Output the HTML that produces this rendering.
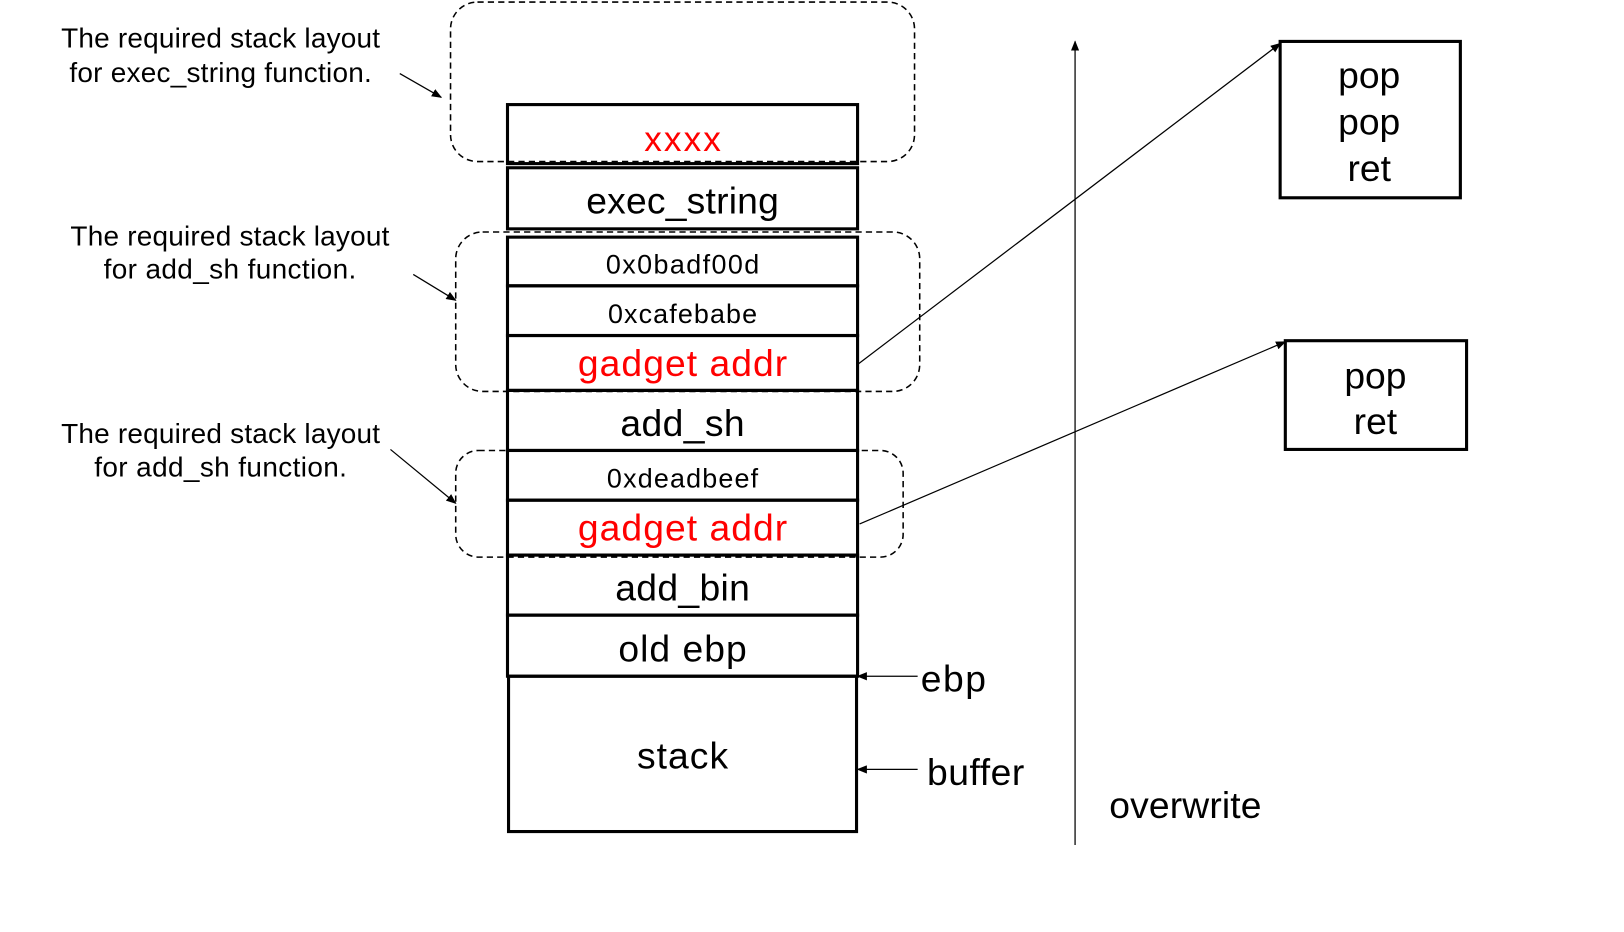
<!DOCTYPE html>
<html><head><meta charset="utf-8"><style>html,body{margin:0;padding:0;background:#fff}svg{display:block}</style></head><body>
<svg width="1624" height="932" viewBox="0 0 1568 900" preserveAspectRatio="none" xmlns="http://www.w3.org/2000/svg" font-family="Liberation Sans, sans-serif">
<defs><marker id="a" markerWidth="10" markerHeight="8" refX="9" refY="4" orient="auto" markerUnits="userSpaceOnUse"><path d="M0,0 L10,4 L0,8 z" fill="#000"/></marker></defs>
<g fill="none" stroke="#000" stroke-width="1.5" stroke-dasharray="6,4">
<rect x="435" y="2" width="448" height="154" rx="26"/>
<rect x="440" y="224" width="448" height="154" rx="26"/>
<rect x="440" y="435" width="432" height="103" rx="22"/>
</g>
<g fill="none" stroke="#000" stroke-width="3">
<rect x="490" y="101" width="338" height="57"/>
<rect x="490" y="162" width="338" height="59"/>
<rect x="490" y="229" width="338" height="47"/>
<rect x="490" y="276" width="338" height="48"/>
<rect x="490" y="324" width="338" height="53"/>
<rect x="490" y="377" width="338" height="58"/>
<rect x="490" y="435" width="338" height="48"/>
<rect x="490" y="483" width="338" height="53"/>
<rect x="490" y="536" width="338" height="58"/>
<rect x="490" y="594" width="338" height="59"/>
<rect x="491" y="653" width="336" height="150"/>
<rect x="1236" y="40" width="174" height="151"/>
<rect x="1241" y="329" width="175" height="105"/>
</g>
<g stroke="#000" stroke-width="1.2" marker-end="url(#a)">
<line x1="386" y1="71" x2="426" y2="94"/>
<line x1="399" y1="265" x2="440" y2="290"/>
<line x1="377" y1="434" x2="440" y2="486"/>
<line x1="1038" y1="816" x2="1038" y2="40"/>
<line x1="886" y1="653" x2="828" y2="653"/>
<line x1="886" y1="743" x2="828" y2="743"/>
<line x1="828" y1="352" x2="1236" y2="42"/>
<line x1="830" y1="506" x2="1241" y2="330"/>
</g>
<g font-size="27" text-anchor="middle" fill="#000">
<text x="213" y="46" textLength="308">The required stack layout</text>
<text x="213" y="79" textLength="292">for exec_string function.</text>
<text x="222" y="237" textLength="308">The required stack layout</text>
<text x="222" y="269" textLength="244">for add_sh function.</text>
<text x="213" y="428" textLength="308">The required stack layout</text>
<text x="213" y="460" textLength="244">for add_sh function.</text>
</g>
<g text-anchor="middle" fill="#000">
<text x="659" y="146" font-size="34" fill="#f00" textLength="74">xxxx</text>
<text x="659" y="206" font-size="36" textLength="186">exec_string</text>
<text x="659" y="264" font-size="26" textLength="148">0x0badf00d</text>
<text x="659" y="312" font-size="26" textLength="144">0xcafebabe</text>
<text x="659" y="363" font-size="36" fill="#f00" textLength="202">gadget addr</text>
<text x="659" y="421" font-size="36" textLength="120">add_sh</text>
<text x="659" y="471" font-size="26" textLength="146">0xdeadbeef</text>
<text x="659" y="522" font-size="36" fill="#f00" textLength="202">gadget addr</text>
<text x="659" y="580" font-size="36" textLength="130">add_bin</text>
<text x="659" y="639" font-size="36" textLength="124">old ebp</text>
<text x="659" y="742" font-size="36" textLength="88">stack</text>
<text x="1322" y="85" font-size="36">pop</text>
<text x="1322" y="130" font-size="36">pop</text>
<text x="1322" y="175" font-size="36">ret</text>
<text x="1328" y="375" font-size="36">pop</text>
<text x="1328" y="419" font-size="36">ret</text>
</g>
<g fill="#000" font-size="36">
<text x="889" y="668" textLength="63">ebp</text>
<text x="895" y="758" textLength="94">buffer</text>
<text x="1071" y="790" textLength="147">overwrite</text>
</g>
</svg>
</body></html>
